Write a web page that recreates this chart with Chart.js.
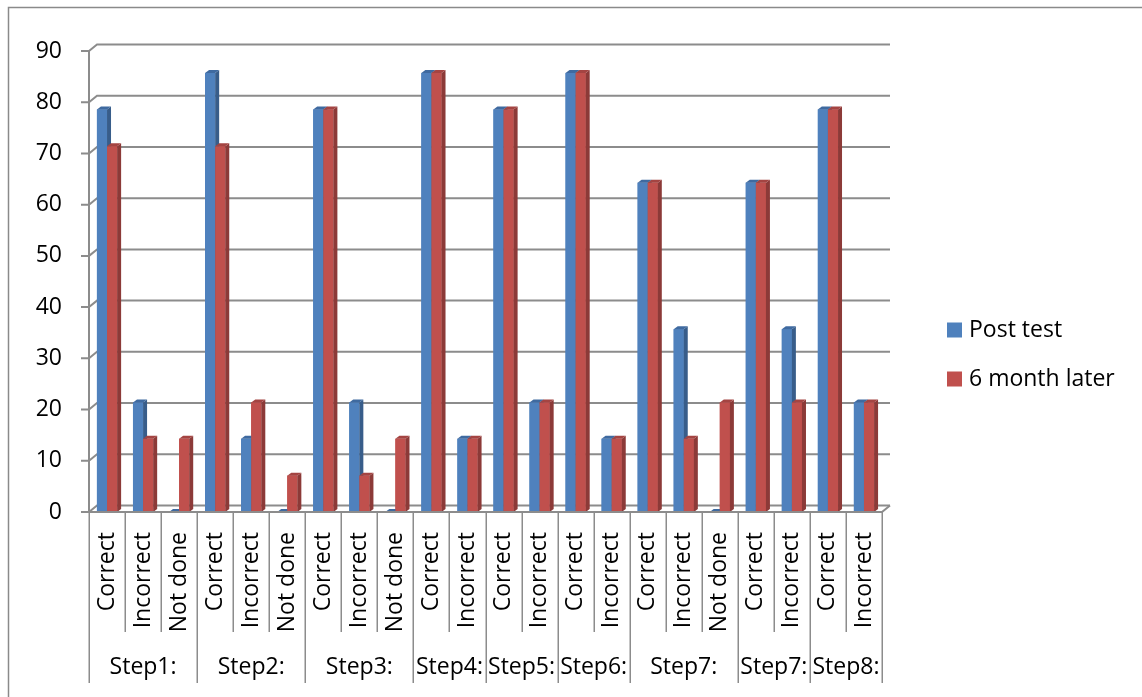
<!DOCTYPE html>
<html>
<head>
<meta charset="utf-8">
<script src="https://cdn.jsdelivr.net/npm/chart.js@4.4.1/dist/chart.umd.min.js"></script>
<style>
  html, body { margin: 0; padding: 0; background: #fff; overflow: hidden; }
  canvas { display: block; }
</style>
</head>
<body>
<canvas id="chart" width="1142" height="697"></canvas>
<script>
// Answer categories along the x axis, one per bar pair
const categories = [
  'Correct', 'Incorrect', 'Not done',
  'Correct', 'Incorrect', 'Not done',
  'Correct', 'Incorrect', 'Not done',
  'Correct', 'Incorrect',
  'Correct', 'Incorrect',
  'Correct', 'Incorrect',
  'Correct', 'Incorrect', 'Not done',
  'Correct', 'Incorrect',
  'Correct', 'Incorrect'
];

// Step headings under the categories, and how many categories each spans
const stepLabels = ['Step1:', 'Step2:', 'Step3:', 'Step4:', 'Step5:', 'Step6:', 'Step7:', 'Step7:', 'Step8:'];
const stepSizes  = [3, 3, 3, 2, 2, 2, 3, 2, 2];

// Percentages per category
const postTest = [
  78.6, 21.4, 0,
  85.7, 14.3, 0,
  78.6, 21.4, 0,
  85.7, 14.3,
  78.6, 21.4,
  85.7, 14.3,
  64.3, 35.7, 0,
  64.3, 35.7,
  78.6, 21.4
];
const sixMonthLater = [
  71.4, 14.3, 14.3,
  71.4, 21.4, 7.1,
  78.6, 7.1, 14.3,
  85.7, 14.3,
  78.6, 21.4,
  85.7, 14.3,
  64.3, 14.3, 21.4,
  64.3, 21.4,
  78.6, 21.4
];

const seriesNames = ['Post test', '6 month later'];

const FONT = '"Open Sans", "DejaVu Sans", sans-serif';
const FONT_SIZE = 23;
const GRID = '#8c8c8c';
const BAR_DEPTH = { dx: 4, dy: 3 };     // bar side/top extrusion
const WALL = { dx: 8, dy: 6.5 };        // back wall offset from the front axis

function poly(ctx, pts) {
  ctx.beginPath();
  ctx.moveTo(pts[0], pts[1]);
  for (let i = 2; i < pts.length; i += 2) ctx.lineTo(pts[i], pts[i + 1]);
  ctx.closePath();
  ctx.fill();
}

// Outer frame and the back wall with its gridlines
const wallPlugin = {
  id: 'wall',
  beforeDraw(chart) {
    const ctx = chart.ctx;
    ctx.save();
    ctx.strokeStyle = '#8a8a8a';
    ctx.lineWidth = 1.5;
    ctx.strokeRect(8.5, 7.5, 1400, 900);
    ctx.restore();
  },
  beforeDatasetsDraw(chart) {
    const { ctx, chartArea: a, scales: { y } } = chart;
    ctx.save();
    ctx.strokeStyle = GRID;
    ctx.lineWidth = 2;
    ctx.lineJoin = 'miter';
    y.ticks.forEach(t => {
      const py = y.getPixelForValue(t.value);
      ctx.beginPath();
      ctx.moveTo(a.left - 8, py);
      ctx.lineTo(a.left, py);
      ctx.lineTo(a.left + WALL.dx, py - WALL.dy);
      ctx.lineTo(a.right + WALL.dx, py - WALL.dy);
      ctx.stroke();
    });
    ctx.beginPath();
    ctx.moveTo(a.left, a.top);
    ctx.lineTo(a.left, a.bottom);
    ctx.stroke();
    ctx.restore();
  }
};

// Extruded faces of each bar, drawn pair by pair so each red bar hides its blue neighbour's side
const depthPlugin = {
  id: 'depth',
  afterDatasetsDraw(chart) {
    const ctx = chart.ctx;
    const { dx, dy } = BAR_DEPTH;
    const n = chart.data.labels.length;
    ctx.save();
    for (let i = 0; i < n; i++) {
      chart.data.datasets.forEach((ds, di) => {
        const bar = chart.getDatasetMeta(di).data[i];
        const { x, y, base, width } = bar.getProps(['x', 'y', 'base', 'width'], true);
        const l = x - width / 2, r = x + width / 2;
        ctx.fillStyle = ds.backgroundColor;
        ctx.fillRect(l, y, width, base - y);
        ctx.fillStyle = ds.sideColor;
        poly(ctx, [r, y, r + dx, y - dy, r + dx, base - dy, r, base]);
        ctx.fillStyle = ds.topColor;
        poly(ctx, [l, y, l + dx, y - dy, r + dx, y - dy, r, y]);
      });
    }
    // front edge of the floor
    const a = chart.chartArea;
    ctx.strokeStyle = GRID;
    ctx.lineWidth = 2;
    ctx.beginPath();
    ctx.moveTo(a.left, a.bottom);
    ctx.lineTo(a.right, a.bottom);
    ctx.lineTo(a.right + WALL.dx, a.bottom - WALL.dy);
    ctx.stroke();
    ctx.restore();
  }
};

// Category separators, step headings and the legend
const axisGroupPlugin = {
  id: 'axisGroups',
  afterDraw(chart) {
    const { ctx, chartArea: a, scales: { x } } = chart;
    const step = x.getPixelForValue(1) - x.getPixelForValue(0);
    const edge = i => x.getPixelForValue(i) - step / 2;
    const groupEdges = new Set([0]);
    let acc = 0;
    stepSizes.forEach(s => { acc += s; groupEdges.add(acc); });

    ctx.save();
    ctx.strokeStyle = GRID;
    ctx.lineWidth = 1.5;
    for (let i = 0; i <= categories.length; i++) {
      const px = Math.round(edge(i)) + 0.25;
      ctx.beginPath();
      ctx.moveTo(px, a.bottom);
      ctx.lineTo(px, a.bottom + (groupEdges.has(i) ? 171 : 120));
      ctx.stroke();
    }

    ctx.fillStyle = '#000';
    ctx.font = `${FONT_SIZE}px ${FONT}`;
    ctx.textAlign = 'center';
    ctx.textBaseline = 'middle';
    let start = 0;
    stepLabels.forEach((lbl, gi) => {
      const end = start + stepSizes[gi];
      ctx.fillText(lbl, (edge(start) + edge(end)) / 2, a.bottom + 155);
      start = end;
    });

    // legend
    ctx.textAlign = 'left';
    chart.data.datasets.forEach((ds, di) => {
      const cy = 330 + di * 49;
      ctx.fillStyle = ds.backgroundColor;
      ctx.fillRect(947, cy - 7.5, 15, 15);
      ctx.fillStyle = '#000';
      ctx.fillText(ds.label, 969, cy);
    });
    ctx.restore();
  }
};

new Chart(document.getElementById('chart'), {
  type: 'bar',
  data: {
    labels: categories,
    datasets: [
      { label: seriesNames[0], data: postTest, backgroundColor: '#4f81bd', sideColor: '#385d8a', topColor: '#3f6aa0' },
      { label: seriesNames[1], data: sixMonthLater, backgroundColor: '#c0504d', sideColor: '#8c3a38', topColor: '#a44442' }
    ]
  },
  options: {
    responsive: false,
    animation: false,
    layout: { padding: { top: 51, right: 260, left: 0, bottom: 0 } },
    datasets: { bar: { categoryPercentage: 0.56, barPercentage: 1.0 } },
    plugins: { legend: { display: false }, tooltip: { enabled: false } },
    scales: {
      x: {
        grid: { display: false, drawTicks: false },
        border: { display: false },
        ticks: {
          autoSkip: false, minRotation: 90, maxRotation: 90, padding: 20,
          color: '#000', font: { family: FONT, size: FONT_SIZE }
        },
        afterFit(s) { s.height = 185; }
      },
      y: {
        min: 0, max: 90,
        grid: { display: false, drawTicks: false },
        border: { display: false },
        ticks: { stepSize: 10, padding: 27, color: '#000', font: { family: FONT, size: FONT_SIZE } },
        afterFit(s) { s.width = 89; }
      }
    }
  },
  plugins: [wallPlugin, depthPlugin, axisGroupPlugin]
});
</script>
</body>
</html>
